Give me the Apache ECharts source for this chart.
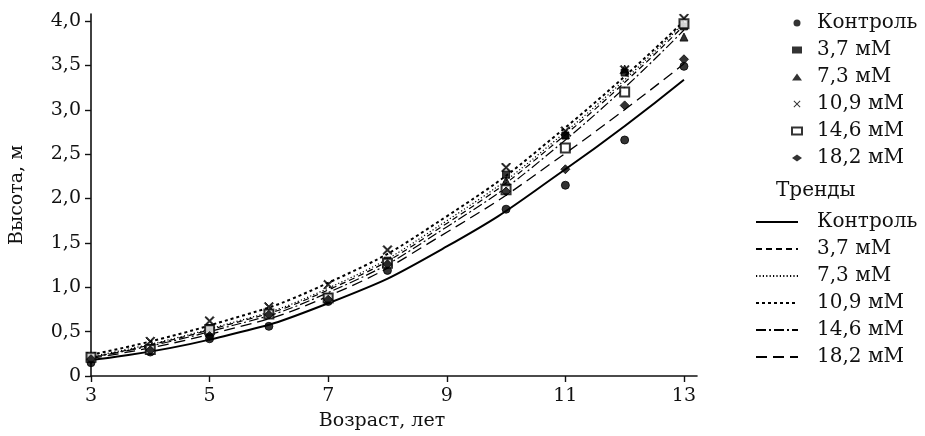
<!DOCTYPE html>
<html>
<head>
<meta charset="utf-8">
<script src="https://cdn.jsdelivr.net/npm/echarts@6/dist/echarts.min.js"></script>
<style>
  html, body { margin: 0; padding: 0; background: #fff; }
  #chart { width: 925px; height: 436px; }
</style>
</head>
<body>
<div id="chart"></div>
<script>
// измерения (точки)
const ages = [3, 4, 5, 6, 7, 8, 10, 11, 12, 13];
const control = [0.15, 0.27, 0.42, 0.56, 0.84, 1.19, 1.88, 2.15, 2.66, 3.49];
const mm37 = [0.21, 0.31, 0.54, 0.71, 0.89, 1.30, 2.27, 2.71, 3.42, 3.94];
const mm73 = [0.20, 0.30, 0.50, 0.70, 0.88, 1.28, 2.20, 2.72, 3.46, 3.82];
const mm109 = [0.22, 0.39, 0.62, 0.78, 1.03, 1.42, 2.35, 2.76, 3.45, 4.03];
const mm146 = [0.21, 0.30, 0.52, 0.70, 0.88, 1.27, 2.10, 2.57, 3.20, 3.97];
const mm182 = [0.19, 0.29, 0.45, 0.69, 0.86, 1.26, 2.08, 2.33, 3.05, 3.57];

// тренды
const trendAges = [3, 5, 7, 9, 11, 13];
const trendControl = [0.18, 0.41, 0.82, 1.46, 2.33, 3.34];
const trend37 = [0.21, 0.52, 0.97, 1.72, 2.72, 3.95];
const trend73 = [0.22, 0.53, 0.99, 1.75, 2.75, 3.98];
const trend109 = [0.24, 0.57, 1.05, 1.80, 2.80, 4.00];
const trend146 = [0.21, 0.50, 0.94, 1.68, 2.66, 3.90];
const trend182 = [0.20, 0.47, 0.90, 1.62, 2.51, 3.52];

const names = ['Контроль', '3,7 мМ', '7,3 мМ', '10,9 мМ', '14,6 мМ', '18,2 мМ'];
const xTicks = [3, 5, 7, 9, 11, 13];
const yTicks = [0, 0.5, 1, 1.5, 2, 2.5, 3, 3.5, 4];

const FONT = 'DejaVu Serif';
const crossPath = 'path://M0,1L1,0L5,4L9,0L10,1L6,5L10,9L9,10L5,6L1,10L0,9L4,5Z';

const pointSets = [control, mm37, mm73, mm109, mm146, mm182];
const trendSets = [trendControl, trend37, trend73, trend109, trend146, trend182];
const symbols = ['circle', 'rect', 'triangle', crossPath, 'emptyRect', 'diamond'];
const symbolSizes = [8, 7, 8, 9, 9, 9];
const dashes = ['solid', [6, 4], [1.2, 2.2], [3, 3], [10, 3, 2, 3], [11, 6]];
const widths = [2, 1.2, 1.2, 2, 1.2, 1.3];

const zip = (xs, ys) => xs.map((x, i) => [x, ys[i]]);

const series = [];
trendSets.forEach((t, i) => {
    series.push({
        name: names[i] + ' ',
        type: 'line',
        data: zip(trendAges, t),
        smooth: true,
        symbol: 'none',
        lineStyle: { color: '#000', width: widths[i], type: dashes[i] },
        itemStyle: { color: '#000' },
        z: 2
    });
});
pointSets.forEach((p, i) => {
    series.push({
        name: names[i],
        type: 'scatter',
        data: zip(ages, p),
        symbol: symbols[i],
        symbolSize: symbolSizes[i],
        itemStyle: { color: '#000', borderColor: '#000' },
        z: 3
    });
});

const legendText = { fontFamily: FONT, fontSize: 20, color: '#111', lineHeight: 20 };

const chart = echarts.init(document.getElementById('chart'));
chart.setOption({
    animation: false,
    textStyle: { fontFamily: FONT },
    grid: { left: 89, right: 228, top: 14, bottom: 58 },
    title: {
        text: 'Тренды',
        left: 771,
        top: 176,
        textStyle: { fontFamily: FONT, fontSize: 20, fontWeight: 'normal', color: '#111' }
    },
    legend: [
        {
            orient: 'vertical',
            left: 791,
            top: 13,
            padding: 0,
            itemWidth: 10,
            itemHeight: 7,
            itemGap: 7,
            data: names,
            textStyle: Object.assign({ padding: [0, 0, 0, 10] }, legendText)
        },
        {
            orient: 'vertical',
            left: 755,
            top: 212,
            padding: 0,
            itemWidth: 42,
            itemHeight: 10,
            itemGap: 7,
            // прячем кружок в значке линии
            itemStyle: { color: 'rgba(0,0,0,0)', borderColor: 'rgba(0,0,0,0)', borderWidth: 0 },
            data: names.map(n => n + ' '),
            textStyle: Object.assign({ padding: [0, 0, 0, 14] }, legendText)
        }
    ],
    xAxis: {
        type: 'value',
        min: 3,
        max: 13.22,
        name: 'Возраст, лет',
        nameLocation: 'middle',
        nameGap: 36,
        nameTextStyle: { fontFamily: FONT, fontSize: 19, color: '#111', padding: [0, 24, 0, 0] },
        splitLine: { show: false },
        axisLine: { lineStyle: { color: '#111', width: 1.6 } },
        axisTick: { length: 6, customValues: xTicks, lineStyle: { color: '#111', width: 1.4 } },
        axisLabel: {
            customValues: xTicks,
            margin: 11,
            fontFamily: FONT,
            fontSize: 19,
            color: '#111'
        }
    },
    yAxis: {
        type: 'value',
        min: 0,
        max: 4.08,
        name: 'Высота, м',
        nameLocation: 'middle',
        nameGap: 64,
        nameTextStyle: { fontFamily: FONT, fontSize: 19, color: '#111' },
        splitLine: { show: false },
        axisLine: { show: true, lineStyle: { color: '#111', width: 1.6 } },
        axisTick: { show: true, length: 6, customValues: yTicks, lineStyle: { color: '#111', width: 1.4 } },
        axisLabel: {
            customValues: yTicks,
            margin: 10,
            fontFamily: FONT,
            fontSize: 19,
            color: '#111',
            formatter: v => (v === 0 ? '0' : v.toFixed(1).replace('.', ','))
        }
    },
    series: series
});
</script>
</body>
</html>
